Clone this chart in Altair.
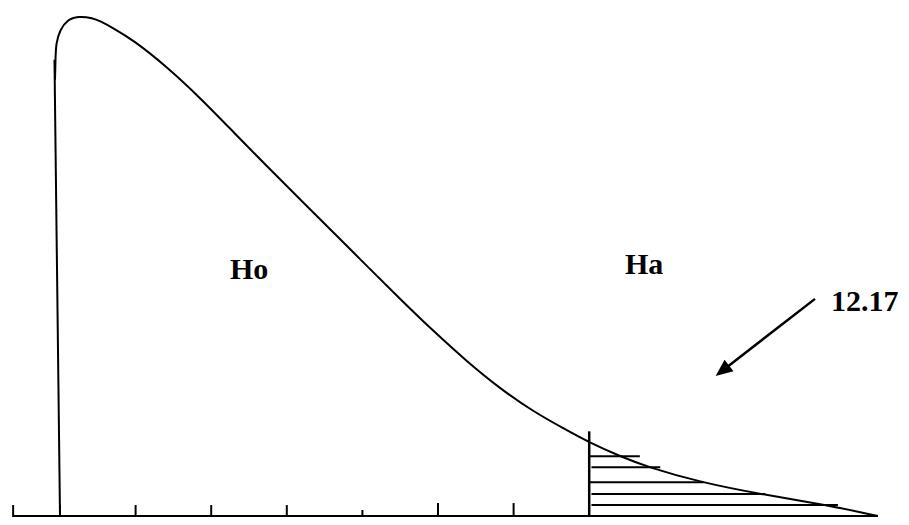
import altair as alt
import pandas as pd

# ---- data (x in tick units, y in curve-height units) ----
curve_x = [-0.066, -0.06, -0.053, 0.0, 0.093, 0.238, 0.437, 0.529, 0.701, 0.966, 1.415,
           1.852, 2.288, 2.738, 3.175, 3.611, 4.061, 4.497, 4.934, 5.384, 5.82, 6.257,
           6.706, 6.997, 7.407, 7.778, 8.466, 9.259, 10.146, 10.82]
curve_y = [4.38, 4.58, 4.75, 4.88, 4.98, 5.02, 5.0, 4.97, 4.9, 4.78, 4.51,
           4.2, 3.86, 3.51, 3.18, 2.85, 2.51, 2.18, 1.86, 1.55, 1.28, 1.05,
           0.86, 0.74, 0.6, 0.49, 0.34, 0.22, 0.11, 0.0]

tick_x = [-0.62, 0, 1, 2, 3, 4, 5, 6]
tick_top = [0.11, 0.11, 0.11, 0.11, 0.11, 0.06, 0.13, 0.13]
tick_bottom = -0.08

axis_start, axis_end = -0.62, 10.82
critical_x = 7.0
critical_top = 0.85

hatch_y = [0.60, 0.49, 0.34, 0.22, 0.11]
hatch_start = [7.0, 7.03, 7.0, 7.03, 7.03]
hatch_end = [7.67, 7.94, 8.51, 9.33, 10.29]

left_line_x = [-0.073, 0.0]
left_line_y = [4.58, 0.0]

labels = ["Ho", "Ha", "12.17"]
label_x = [2.249, 7.474, 10.2]
label_y = [2.38, 2.43, 2.06]

arrow_from = (9.987, 2.18)
arrow_head = (8.761, 1.459)

# ---- scales ----
XS = alt.Scale(domain=[0, 10], range=[52, 808], nice=False, zero=False)
YS = alt.Scale(domain=[0, 5], range=[508, 10], nice=False, zero=False)


def X(f):
    return alt.X(f, type="quantitative", scale=XS, axis=None)


def Y(f):
    return alt.Y(f, type="quantitative", scale=YS, axis=None)


curve_df = pd.DataFrame({"x": curve_x, "y": curve_y})
curve = alt.Chart(curve_df).mark_line(
    color="black", strokeWidth=2, interpolate="basis", clip=False
).encode(x=X("x"), y=Y("y"))

rules = []
# x axis line
rules.append({"x": axis_start, "x2": axis_end, "y": 0.0, "y2": 0.0, "w": 2})
# ticks
for tx, tt in zip(tick_x, tick_top):
    rules.append({"x": tx, "x2": tx, "y": tick_bottom, "y2": tt, "w": 2})
# critical value line
rules.append({"x": critical_x, "x2": critical_x, "y": tick_bottom, "y2": critical_top, "w": 2.5})
# hatching
for hy, hs, he in zip(hatch_y, hatch_start, hatch_end):
    rules.append({"x": hs, "x2": he, "y": hy, "y2": hy, "w": 2})
# left vertical edge of the curve
rules.append({"x": left_line_x[0], "x2": left_line_x[1], "y": left_line_y[0], "y2": left_line_y[1], "w": 2})
# arrow shaft
rules.append({"x": arrow_from[0], "x2": arrow_head[0], "y": arrow_from[1], "y2": arrow_head[1], "w": 2.5})
rules_df = pd.DataFrame(rules)

rule_layer = alt.Chart(rules_df).mark_rule(color="black", clip=False).encode(
    x=X("x"), x2="x2", y=Y("y"), y2="y2",
    strokeWidth=alt.StrokeWidth("w:Q", scale=None, legend=None),
)

head_df = pd.DataFrame({"x": [arrow_head[0]], "y": [arrow_head[1]]})
head = alt.Chart(head_df).mark_point(
    shape="M0,-1L0.85,1L-0.85,1Z", filled=True, color="black", opacity=1,
    size=289, angle=232, strokeWidth=0, clip=False
).encode(x=X("x"), y=Y("y"))

text_df = pd.DataFrame({"t": labels, "x": label_x, "y": label_y})
texts = alt.Chart(text_df).mark_text(
    font="Liberation Serif", fontWeight="bold", fontSize=30, color="black",
    align="left", baseline="alphabetic", clip=False
).encode(x=X("x"), y=Y("y"), text="t:N")

chart = alt.layer(curve, rule_layer, head, texts).properties(
    width=893, height=509,
    autosize=alt.AutoSizeParams(type="none"),
    padding=0,
    background="white",
).configure_view(stroke=None)

chart.save("out.html", embed_options={"renderer": "svg", "actions": False})
